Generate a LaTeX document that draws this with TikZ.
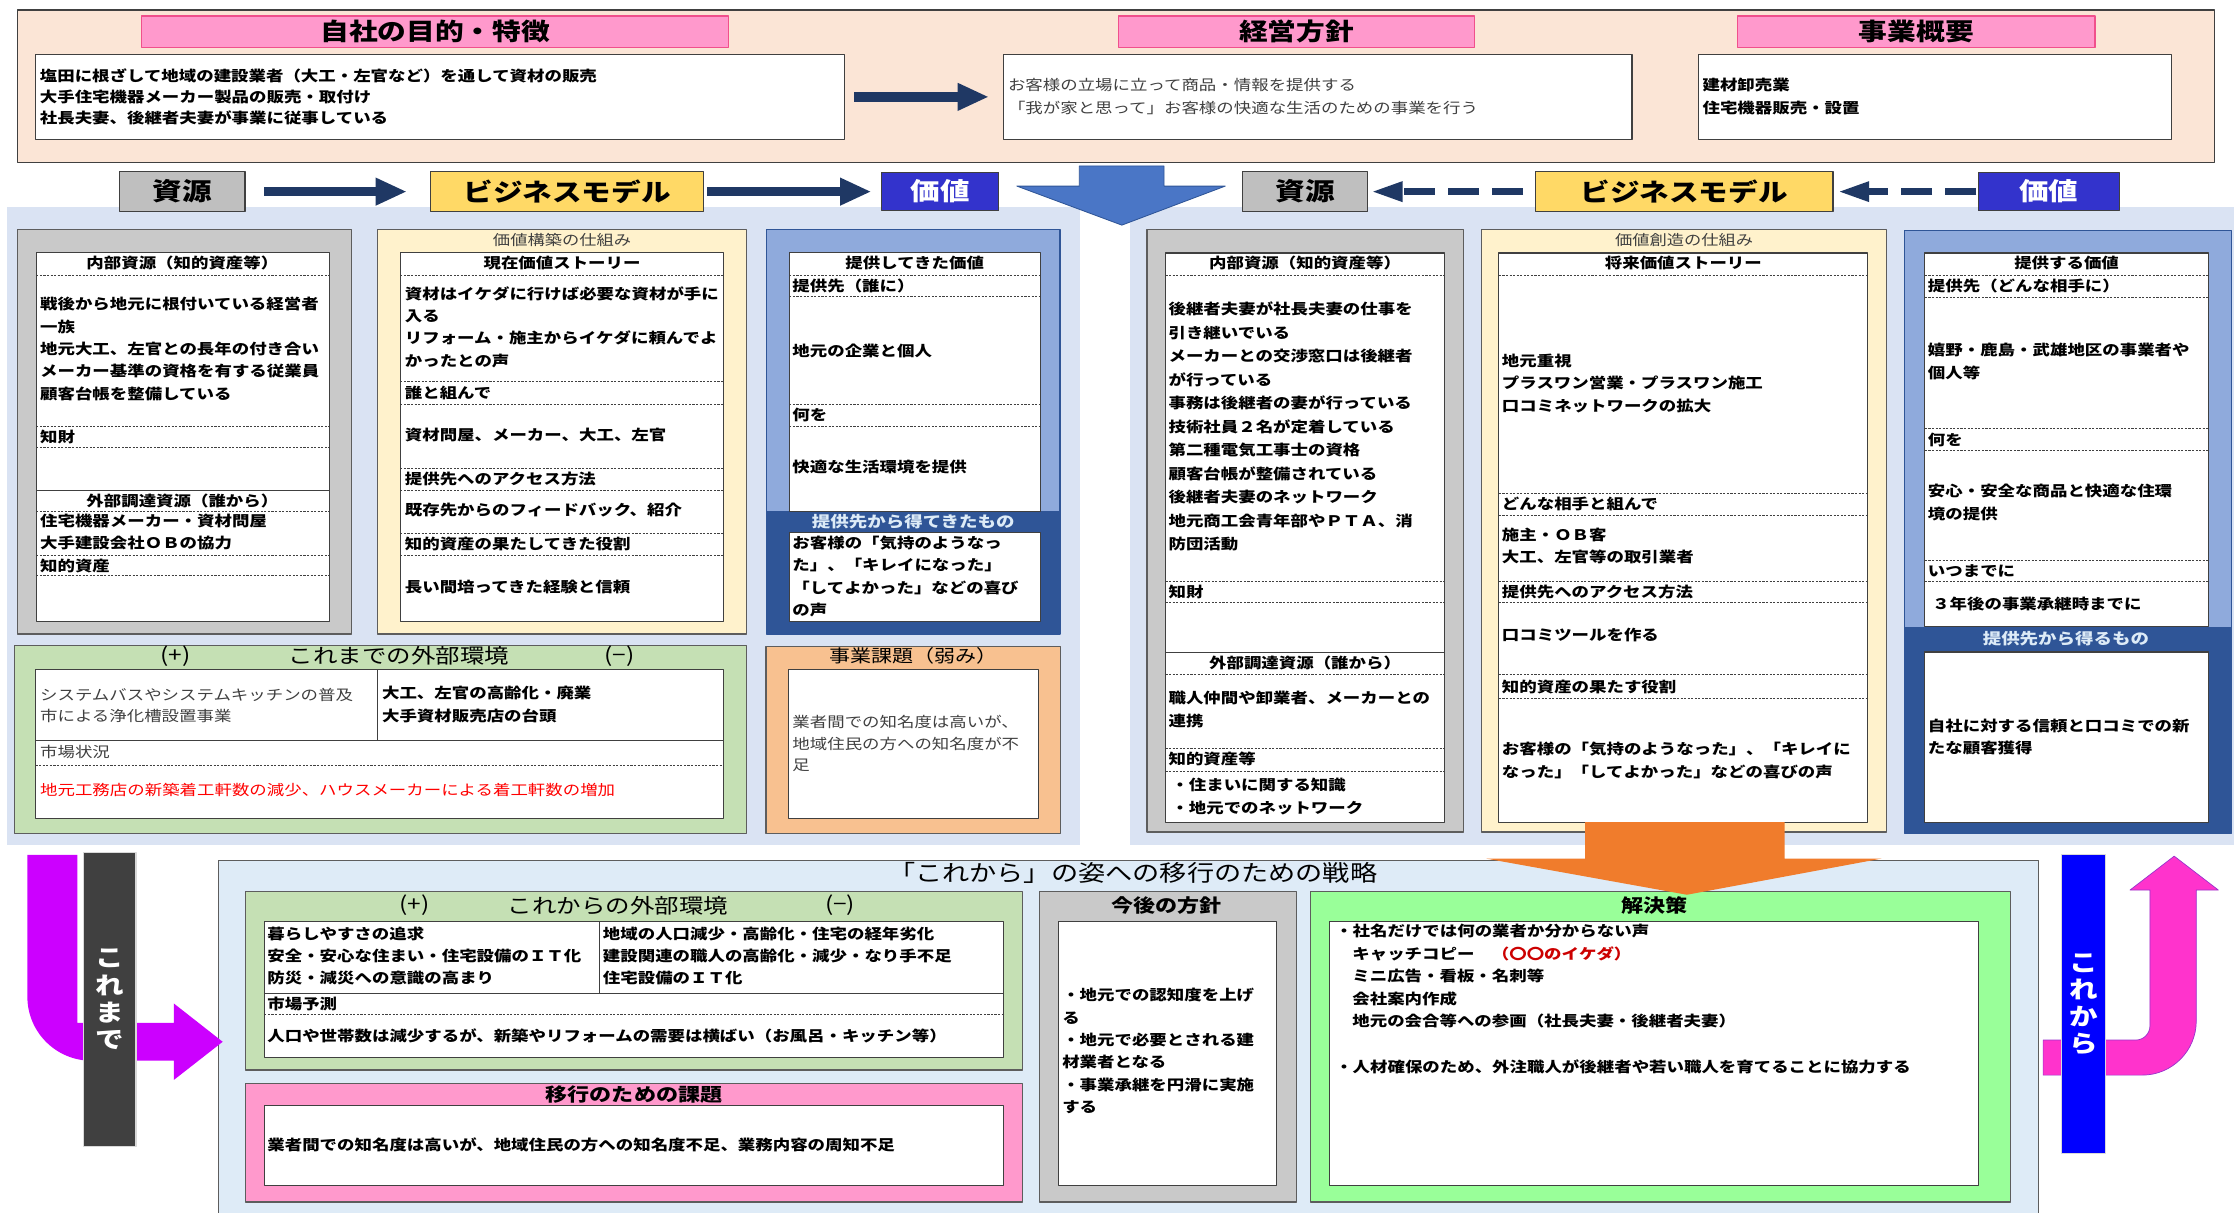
\documentclass[tikz,border=0pt]{standalone}
\usepackage{fontspec}
\setmainfont{Noto Sans CJK JP}[FakeStretch=1.2]
\usetikzlibrary{arrows.meta}

\definecolor{peach}{HTML}{FBE5D6}
\definecolor{pinkhd}{HTML}{FF99CC}
\definecolor{pinkedge}{HTML}{F0508C}
\definecolor{navyarr}{HTML}{1F3864}
\definecolor{resgray}{HTML}{BFBFBF}
\definecolor{bmyellow}{HTML}{FFD966}
\definecolor{valblue}{HTML}{3333CC}
\definecolor{bigblue}{HTML}{4A76C6}
\definecolor{midbg}{HTML}{DAE3F3}
\definecolor{pangray}{HTML}{C9C9C9}
\definecolor{panyellow}{HTML}{FFF2CC}
\definecolor{panblue}{HTML}{8FAADC}
\definecolor{bandblue}{HTML}{2F5597}
\definecolor{bandtext}{HTML}{DDEBF7}
\definecolor{envgreen}{HTML}{C5E0B4}
\definecolor{issueorange}{HTML}{F8C190}
\definecolor{stratbg}{HTML}{DEEBF7}
\definecolor{solgreen}{HTML}{99FF99}
\definecolor{arroworange}{HTML}{F07C2C}
\definecolor{kmpurple}{HTML}{CC00FF}
\definecolor{kkpink}{HTML}{FF33CC}
\definecolor{kkedge}{HTML}{9933CC}
\definecolor{darkbar}{HTML}{404040}
\definecolor{purebar}{HTML}{0000FF}
\definecolor{edge}{HTML}{404040}
\definecolor{softtext}{HTML}{404040}
\definecolor{envred}{HTML}{FF0000}
\definecolor{capred}{HTML}{CC0000}

\newcommand\fsbody{\fontsize{10.2}{15.7}\selectfont\bfseries}
\newcommand\fsbodyloose{\fontsize{10.2}{16.5}\selectfont\bfseries}
\newcommand\fsbodytop{\fontsize{10.2}{14.5}\selectfont\bfseries}
\newcommand\fsplain{\fontsize{10.2}{14.5}\selectfont}
\newcommand\fsplainB{\fontsize{10.2}{15.2}\selectfont}
\newcommand\fsplaintop{\fontsize{10.2}{16.3}\selectfont}
\newcommand\fshead{\fontsize{16.8}{18}\selectfont\bfseries}
\newcommand\fstag{\fontsize{17.3}{18}\selectfont\bfseries}
\newcommand\fssmall{\fontsize{10.1}{11}\selectfont}
\newcommand\fsband{\fontsize{10.8}{12}\selectfont\bfseries}
\newcommand\fsenv{\fontsize{14.3}{15}\selectfont}
\newcommand\fsissue{\fontsize{12.3}{13}\selectfont}
\newcommand\fsstrat{\fontsize{15.9}{17}\selectfont}
\newcommand\fssub{\fontsize{12.9}{14}\selectfont\bfseries}
\newcommand\fsbar{\fontsize{16.7}{19}\selectfont\bfseries}

\tikzset{
  pinkhead/.style={draw=pinkedge, line width=1pt, fill=pinkhd, inner sep=0pt, font=\fshead},
  whitebox/.style={draw=edge, line width=0.8pt, fill=white},
  tag/.style={draw=edge, line width=0.8pt, inner sep=0pt, font=\fstag},
  navyarrow/.style={draw=navyarr, line width=6.5pt, -{Triangle[length=22pt,width=18pt]}},
  backarrow/.style={draw=navyarr, line width=5pt, dash pattern=on 22pt off 9pt, -{Triangle[length=22pt,width=13pt]}},
  panel/.style={draw=edge!85, line width=0.8pt},
  sepline/.style={draw=edge, line width=0.5pt, dash pattern=on 1.5pt off 1pt},
  solidsep/.style={draw=edge, line width=0.8pt},
  txt/.style={anchor=west, inner sep=0pt, align=left, font=\fsbody},
  ctxt/.style={inner sep=0pt, align=center, font=\fsbody},
  ttl/.style={inner sep=0pt, align=center},
  bar/.style={draw=white!85!black, line width=0.8pt, text=white, font=\fsbar, align=center, inner sep=0pt},
}

\begin{document}
\begin{tikzpicture}[x=1pt, y=-1pt, line join=round]
  \useasboundingbox (0,0) rectangle (1568,851);
  \fill[white] (0,0) rectangle (1568,851);

  % Purpose, policy, business outline
  \draw[draw=edge, line width=0.8pt, fill=peach] (12,7) rectangle (1554,114);
  \node[pinkhead, minimum width=412pt, minimum height=22pt] (aimHead) at (305.5,22.2) {自社の目的・特徴};
  \node[pinkhead, minimum width=250pt, minimum height=22pt] (policyHead) at (910,22.2) {経営方針};
  \node[pinkhead, minimum width=251pt, minimum height=22pt] (bizHead) at (1345,22.2) {事業概要};
  \node[whitebox, minimum width=568pt, minimum height=60pt, text width=562pt, inner sep=3pt, align=left, font=\fsbodytop] (aim) at (309,68)
    {塩田に根ざして地域の建設業者（大工・左官など）を通して資材の販売\\大手住宅機器メーカー製品の販売・取付け\\社長夫妻、後継者夫妻が事業に従事している};
  \node[whitebox, minimum width=441pt, minimum height=60pt, text width=435pt, inner sep=3pt, align=left, font=\fsplaintop, text=softtext] (policy) at (925,68)
    {お客様の立場に立って商品・情報を提供する\\「我が家と思って」お客様の快適な生活のための事業を行う};
  \node[whitebox, minimum width=332pt, minimum height=60pt, text width=326pt, inner sep=3pt, align=left, font=\fsplaintop\bfseries] (biz) at (1358,68)
    {建材卸売業\\住宅機器販売・設置};
  \draw[navyarrow, shorten <=6pt, shorten >=10pt] (aim) -- (policy);

  % Backgrounds of the two halves
  \fill[midbg] (5,145) rectangle (758,593);
  \fill[midbg] (793,145) rectangle (1568,593);

  % Big down arrow
  \draw[draw=bandblue, line width=0.6pt, fill=bigblue] (757.5,116.5) -- (817,116.5) -- (817,130.6) -- (860,130.6)
    -- (787.4,158) -- (713.7,130.6) -- (757.5,130.6) -- cycle;

  % Row of tags
  \node[tag, fill=resgray, minimum width=88pt, minimum height=28pt] (resNow) at (128,134.5) {資源};
  \node[tag, fill=bmyellow, minimum width=192pt, minimum height=28pt] (bmNow) at (398,134.5) {ビジネスモデル};
  \node[tag, fill=valblue, text=white, minimum width=82pt, minimum height=27pt] (valNow) at (660,134.5) {価値};
  \node[tag, fill=resgray, minimum width=88pt, minimum height=28pt] (resNext) at (916,134.5) {資源};
  \node[tag, fill=bmyellow, minimum width=209pt, minimum height=28pt] (bmNext) at (1182,134.5) {ビジネスモデル};
  \node[tag, fill=valblue, text=white, minimum width=99pt, minimum height=27pt] (valNext) at (1438,134.5) {価値};
  \draw[navyarrow, shorten <=13pt, shorten >=16pt] (resNow) -- (bmNow);
  \draw[navyarrow, shorten <=2pt, shorten >=7pt] (bmNow) -- (valNow);
  \draw[backarrow, shorten <=8pt, shorten >=2pt] (bmNext) -- (resNext);
  \draw[backarrow, shorten <=1pt, shorten >=3pt] (valNext) -- (bmNext);

  % Resources so far
  \draw[panel, fill=pangray] (12,161) rectangle (247,445);
  \draw[whitebox] (25.5,177) rectangle (231,436);
  \foreach \y in {193,299,314,359,390,404} \draw[sepline] (25.5,\y) -- (231,\y);
  \draw[solidsep] (25.5,344) -- (231,344);
  \node[ctxt] (irNowHead) at (128,184.5) {内部資源（知的資産等）};
  \node[txt] (irNowBody) at (28,245) {戦後から地元に根付いている経営者\\一族\\地元大工、左官との長年の付き合い\\メーカー基準の資格を有する従業員\\顧客台帳を整備している};
  \node[txt] (ipNow) at (28,306.5) {知財};
  \node[ctxt] (erNowHead) at (128,351.5) {外部調達資源（誰から）};
  \node[txt] (erNowBody) at (28,373.5) {住宅機器メーカー・資材問屋\\大手建設会社ＯＢの協力};
  \node[txt] (iaNow) at (28,397) {知的資産};

  % Value-building mechanism
  \draw[panel, fill=panyellow] (265,161) rectangle (524,445);
  \node[ttl, font=\fssmall, text=softtext] (buildTtl) at (394.5,168.5) {価値構築の仕組み};
  \draw[whitebox] (281,177) rectangle (508,436);
  \foreach \y in {193,268,284,329,344,374,390} \draw[sepline] (281,\y) -- (508,\y);
  \node[ctxt] (storyNowHead) at (394.5,184.5) {現在価値ストーリー};
  \node[txt] (storyNow) at (284,229.5) {資材はイケダに行けば必要な資材が手に\\入る\\リフォーム・施主からイケダに頼んでよ\\かったとの声};
  \node[txt] (partnerNowHead) at (284,276) {誰と組んで};
  \node[txt] (partnerNow) at (284,305) {資材問屋、メーカー、大工、左官};
  \node[txt] (accessNowHead) at (284,336.5) {提供先へのアクセス方法};
  \node[txt] (accessNow) at (284,358) {既存先からのフィードバック、紹介};
  \node[txt] (roleNowHead) at (284,382) {知的資産の果たしてきた役割};
  \node[txt] (roleNow) at (284,412) {長い間培ってきた経験と信頼};

  % Value provided so far
  \draw[panel, draw=bandblue, fill=panblue] (538,161) rectangle (744,445);
  \fill[bandblue] (538,359) rectangle (744,445);
  \draw[whitebox] (554,177) rectangle (730,359);
  \foreach \y in {193,208,284,299} \draw[sepline] (554,\y) -- (730,\y);
  \node[ctxt] (valNowHead) at (642,184.5) {提供してきた価値};
  \node[txt] (whoNowHead) at (556,200.5) {提供先（誰に）};
  \node[txt] (whoNow) at (556,246) {地元の企業と個人};
  \node[txt] (whatNowHead) at (556,291.5) {何を};
  \node[txt] (whatNow) at (556,328) {快適な生活環境を提供};
  \node[ttl, font=\fsband, text=bandtext] (gotNowHead) at (641,366) {提供先から得てきたもの};
  \draw[whitebox] (554,374) rectangle (730,436);
  \node[txt] (gotNow) at (556,404.5) {お客様の「気持のようなっ\\た」、「キレイになった」\\「してよかった」などの喜び\\の声};

  % External environment so far
  \draw[panel, fill=envgreen] (10,453) rectangle (524,585);
  \node[ttl, font=\fsenv] (envNowPlus) at (123,460.5) {(+)};
  \node[ttl, font=\fsenv] (envNowTtl) at (280,460.5) {これまでの外部環境};
  \node[ttl, font=\fsenv] (envNowMinus) at (435,460.5) {(−)};
  \draw[whitebox] (25,470) rectangle (508,574.5);
  \draw[solidsep] (265,470) -- (265,520) (25,520) -- (508,520);
  \draw[sepline] (25,537) -- (508,537);
  \node[txt, font=\fsplain, text=softtext] (envNowGood) at (28,495) {システムバスやシステムキッチンの普及\\市による浄化槽設置事業};
  \node[txt] (envNowBad) at (268,494.5) {大工、左官の高齢化・廃業\\大手資材販売店の台頭};
  \node[txt, font=\fsplain, text=softtext] (marketNowHead) at (28,527.7) {市場状況};
  \node[txt, font=\fsplain, text=envred] (marketNow) at (28,554.6) {地元工務店の新築着工軒数の減少、ハウスメーカーによる着工軒数の増加};

  % Business issues
  \draw[panel, fill=issueorange] (537.6,453.5) rectangle (744.6,585);
  \node[ttl, font=\fsissue] (issueTtl) at (641,460.5) {事業課題（弱み）};
  \draw[whitebox] (553.6,470) rectangle (729,574.5);
  \node[txt, font=\fsplainB, text=softtext] (issueTxt) at (556,521.8) {業者間での知名度は高いが、\\地域住民の方への知名度が不\\足};

  % Resources to come
  \draw[panel, fill=pangray] (805,161) rectangle (1027,584);
  \draw[whitebox] (818,177.6) rectangle (1014,577);
  \foreach \y in {193,408,423,473.5,525,541.5} \draw[sepline] (818,\y) -- (1014,\y);
  \draw[solidsep] (818,458) -- (1014,458);
  \node[ctxt] (irNextHead) at (916,184.5) {内部資源（知的資産等）};
  \node[txt, font=\fsbodyloose] (irNextBody) at (820,299.3) {後継者夫妻が社長夫妻の仕事を\\引き継いでいる\\メーカーとの交渉窓口は後継者\\が行っている\\事務は後継者の妻が行っている\\技術社員２名が定着している\\第二種電気工事士の資格\\顧客台帳が整備されている\\後継者夫妻のネットワーク\\地元商工会青年部やＰＴＡ、消\\防団活動};
  \node[txt] (ipNext) at (820,415.5) {知財};
  \node[ctxt] (erNextHead) at (916,465.5) {外部調達資源（誰から）};
  \node[txt, font=\fsbodyloose] (erNextBody) at (820,498) {職人仲間や卸業者、メーカーとの\\連携};
  \node[txt] (iaNextHead) at (820,533) {知的資産等};
  \node[txt] (iaNext) at (822,559) {・住まいに関する知識\\・地元でのネットワーク};

  % Value-creation mechanism
  \draw[panel, fill=panyellow] (1040,161) rectangle (1324,584);
  \node[ttl, font=\fssmall, text=softtext] (createTtl) at (1182,168.5) {価値創造の仕組み};
  \draw[whitebox] (1052,177.6) rectangle (1311,577);
  \foreach \y in {193,346,361.5,408,423,473.5,490} \draw[sepline] (1052,\y) -- (1311,\y);
  \node[ctxt] (storyNextHead) at (1181.5,184.5) {将来価値ストーリー};
  \node[txt] (storyNext) at (1054,269) {地元重視\\プラスワン営業・プラスワン施工\\口コミネットワークの拡大};
  \node[txt] (partnerNextHead) at (1054,354) {どんな相手と組んで};
  \node[txt] (partnerNext) at (1054,383) {施主・ＯＢ客\\大工、左官等の取引業者};
  \node[txt] (accessNextHead) at (1054,415.5) {提供先へのアクセス方法};
  \node[txt] (accessNext) at (1054,446) {口コミツールを作る};
  \node[txt] (roleNextHead) at (1054,482) {知的資産の果たす役割};
  \node[txt] (roleNext) at (1054,533.7) {お客様の「気持のようなった」、「キレイに\\なった」「してよかった」などの喜びの声};

  % Value to provide
  \draw[panel, draw=bandblue, fill=panblue] (1336.6,162) rectangle (1566,585);
  \fill[bandblue] (1336.6,440) rectangle (1566,585);
  \draw[whitebox] (1351,177.6) rectangle (1550,440);
  \foreach \y in {193,209,301,316,393,408} \draw[sepline] (1351,\y) -- (1550,\y);
  \node[ctxt] (valNextHead) at (1450.5,184.5) {提供する価値};
  \node[txt] (whoNextHead) at (1353,201) {提供先（どんな相手に）};
  \node[txt] (whoNext) at (1353,253.6) {嬉野・鹿島・武雄地区の事業者や\\個人等};
  \node[txt] (whatNextHead) at (1353,308.5) {何を};
  \node[txt] (whatNext) at (1353,352.8) {安心・安全な商品と快適な住環\\境の提供};
  \node[txt] (whenNextHead) at (1353,400.5) {いつまでに};
  \node[txt] (whenNext) at (1356,424) {３年後の事業承継時までに};
  \node[ttl, font=\fsband, text=bandtext] (gotNextHead) at (1450,448) {提供先から得るもの};
  \draw[whitebox] (1351,457.6) rectangle (1550,577);
  \node[txt] (gotNext) at (1353,517.3) {自社に対する信頼と口コミでの新\\たな顧客獲得};

  % Strategy for the transition
  \fill[stratbg] (153.6,603.7) rectangle (1431,852);
  \draw[panel] (153.6,852) -- (153.6,603.7) -- (1431,603.7) -- (1431,852);
  \node[ttl, font=\fsstrat] (stratTtl) at (795,612.5) {「これから」の姿への移行のための戦略};

  % External environment to come
  \draw[panel, fill=envgreen] (172.4,626) rectangle (717.6,751);
  \node[ttl, font=\fsenv] (envNextPlus) at (290.8,635.5) {(+)};
  \node[ttl, font=\fsenv] (envNextTtl) at (433.7,635.5) {これからの外部環境};
  \node[ttl, font=\fsenv] (envNextMinus) at (589.7,635.5) {(−)};
  \draw[whitebox] (185.5,647) rectangle (704.4,742.3);
  \draw[solidsep] (420.5,647) -- (420.5,697.3) (185.5,697.3) -- (704.4,697.3);
  \draw[sepline] (185.5,711.8) -- (704.4,711.8);
  \node[txt] (envNextGood) at (187.5,671) {暮らしやすさの追求\\安全・安心な住まい・住宅設備のＩＴ化\\防災・減災への意識の高まり};
  \node[txt] (envNextBad) at (423,671) {地域の人口減少・高齢化・住宅の経年劣化\\建設関連の職人の高齢化・減少・なり手不足\\住宅設備のＩＴ化};
  \node[txt] (marketNextHead) at (187.5,704.4) {市場予測};
  \node[txt] (marketNext) at (187.5,727.3) {人口や世帯数は減少するが、新築やリフォームの需要は横ばい（お風呂・キッチン等）};

  % Issues for the transition
  \draw[panel, fill=pinkhd] (172.4,760.5) rectangle (717.6,843.6);
  \node[ttl, font=\fssub] (moveTtl) at (445,768) {移行のための課題};
  \draw[whitebox] (185.5,775.7) rectangle (704.4,831.9);
  \node[txt] (moveTxt) at (187.5,803.8) {業者間での知名度は高いが、地域住民の方への知名度不足、業務内容の周知不足};

  % Future policy
  \draw[panel, fill=pangray] (729.7,626) rectangle (910,843.6);
  \node[ttl, font=\fssub] (futureTtl) at (819,635.5) {今後の方針};
  \draw[whitebox] (743,647) rectangle (895.8,831.9);
  \node[txt] (futureTxt) at (745.4,737.8) {・地元での認知度を上げ\\る\\・地元で必要とされる建\\材業者となる\\・事業承継を円滑に実施\\する};

  % Solutions
  \draw[panel, fill=solgreen] (920,626) rectangle (1411,843.6);
  \node[ttl, font=\fssub] (solTtl) at (1161,635.5) {解決策};
  \draw[whitebox] (933.4,647) rectangle (1388.7,831.9);
  \node[txt] (solName) at (937,653.3) {・社名だけでは何の業者か分からない声};
  \node[txt] (solList) at (949,693) {キャッチコピー　{\color{capred}（〇〇のイケダ）}\\ミニ広告・看板・名刺等\\会社案内作成\\地元の会合等への参画（社長夫妻・後継者夫妻）};
  \node[txt] (solStaff) at (937,748.8) {・人材確保のため、外注職人が後継者や若い職人を育てることに協力する};

  % Orange down arrow
  \fill[arroworange] (1112.5,577) -- (1252.6,577) -- (1252.6,602.6) -- (1320.7,602.6)
    -- (1184,628) -- (1043,602.6) -- (1112.5,602.6) -- cycle;

  % So far: bent arrow and bar
  \fill[kmpurple] (19.2,600) -- (19.2,699.5) arc[start angle=180, end angle=90, radius=45]
    -- (122,744.5) -- (122,758) -- (156.3,731.2) -- (122,704.3) -- (122,717.9)
    -- (54.3,717.9) -- (54.3,600) -- cycle;
  \node[bar, fill=darkbar, minimum width=37pt, minimum height=206pt] (soFar) at (77,701.4) {こ\\れ\\ま\\で};

  % From now on: bent arrow and bar
  \draw[draw=kkedge, line width=0.5pt, fill=kkpink] (1434,730) -- (1499,730)
    arc[start angle=90, end angle=0, radius=10] -- (1509,624.7) -- (1495,624.7)
    -- (1526,600.9) -- (1557,624.7) -- (1541.5,624.7) -- (1541.5,716.6)
    arc[start angle=0, end angle=90, radius=38] -- (1434,754.6) -- cycle;
  \node[bar, fill=purebar, minimum width=30.7pt, minimum height=209.6pt] (fromNow) at (1462.4,704.8) {こ\\れ\\か\\ら};
\end{tikzpicture}
\end{document}
